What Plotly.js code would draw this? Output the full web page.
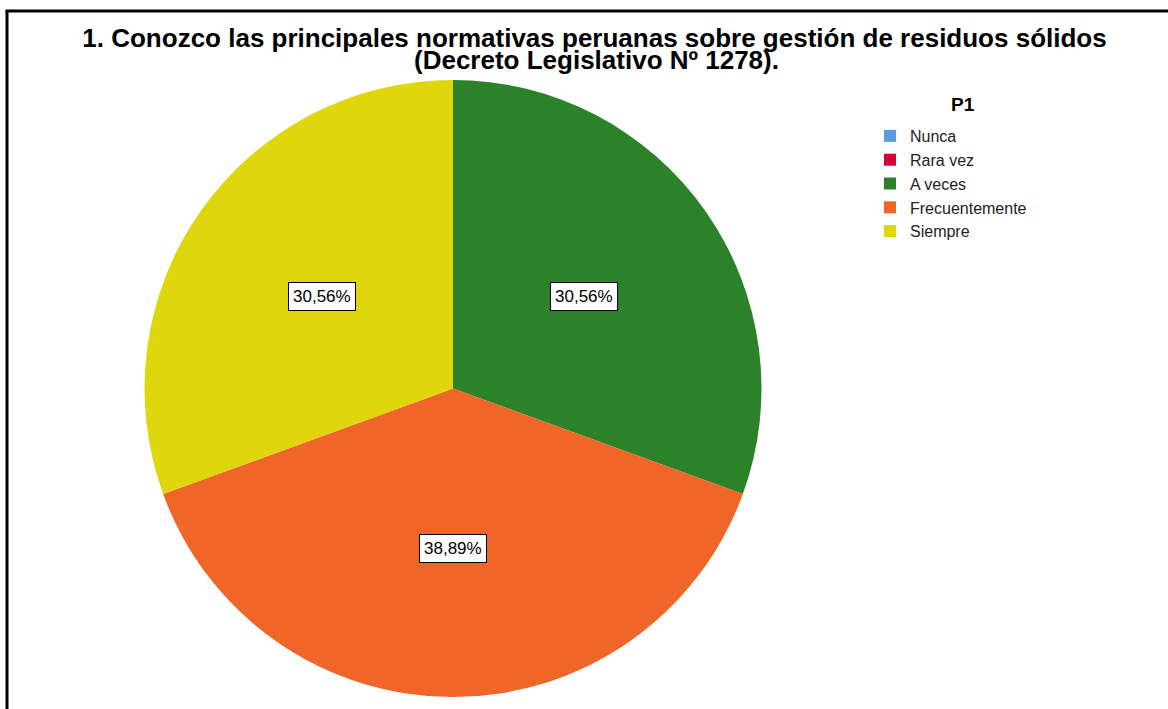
<!DOCTYPE html>
<html><head><meta charset="utf-8">
<script src="https://cdn.plot.ly/plotly-3.0.1.min.js"></script>
<style>html,body{margin:0;padding:0;background:#fff}#chart{width:1168px;height:709px}</style>
</head><body><div id="chart"></div>
<script>
const categories = ['Nunca', 'Rara vez', 'A veces', 'Frecuentemente', 'Siempre'];
const counts = [0, 0, 11, 14, 11];
const colors = ['#5b9be6', '#d8003a', '#2b8229', '#f06629', '#e0d60e'];
const titleLine1 = '1. Conozco las principales normativas peruanas sobre gestión de residuos sólidos';
const titleLine2 = '(Decreto Legislativo Nº 1278).';
const legendTitle = 'P1';

const W = 1168, H = 709;
const M = {l: 0, r: 0, t: 80, b: 12};
const plotW = W - M.l - M.r, plotH = H - M.t - M.b;
const cx = 453, R = plotH / 2, cy = M.t + R;
const px2x = px => (px - M.l) / plotW;
const py2y = py => (H - M.b - py) / plotH;
const FONT = 'Arial, "Liberation Sans", sans-serif';
const LABEL_RADIUS = 0.52;

const total = counts.reduce((a, b) => a + b, 0);
const annotations = [];
let cum = 0;
counts.forEach((v, i) => {
  const mid = (cum + v / 2) / total * 2 * Math.PI;
  cum += v;
  if (v === 0) return;
  const px = cx + LABEL_RADIUS * R * Math.sin(mid);
  const py = cy - LABEL_RADIUS * R * Math.cos(mid);
  annotations.push({
    x: px2x(px), y: py2y(py), xref: 'paper', yref: 'paper', showarrow: false,
    xanchor: 'center', yanchor: 'middle',
    text: (v / total * 100).toFixed(2).replace('.', ',') + '%',
    font: {family: FONT, size: 17, color: '#000'},
    bgcolor: '#fff', bordercolor: '#000', borderwidth: 1, borderpad: 4
  });
});
annotations.push({
  x: px2x(596), y: py2y(60), xref: 'paper', yref: 'paper', showarrow: false,
  xanchor: 'center', yanchor: 'middle',
  text: titleLine2, font: {family: FONT, size: 26, weight: 'bold', color: '#000'}
});
annotations.push({
  x: px2x(963), y: py2y(104), xref: 'paper', yref: 'paper', showarrow: false,
  xanchor: 'center', yanchor: 'middle',
  text: legendTitle, font: {family: FONT, size: 19, weight: 'bold', color: '#000'}
});

const data = [{
  type: 'pie',
  labels: categories,
  values: counts,
  marker: {colors: colors, line: {width: 0}},
  sort: false,
  direction: 'clockwise',
  rotation: 0,
  textinfo: 'none',
  hoverinfo: 'label+percent',
  domain: {x: [px2x(cx - R), px2x(cx + R)], y: [0, 1]}
}];

const layout = {
  width: W, height: H,
  margin: M,
  paper_bgcolor: '#fff', plot_bgcolor: '#fff',
  title: {
    text: titleLine1, x: 594.5 / W, xanchor: 'center', xref: 'container',
    y: 1 - 37.5 / H, yanchor: 'middle', yref: 'container',
    font: {family: FONT, size: 26, weight: 'bold', color: '#000'}
  },
  showlegend: true,
  legend: {
    x: px2x(870), xanchor: 'left', y: py2y(119), yanchor: 'top',
    font: {family: FONT, size: 16, color: '#222'},
    bgcolor: 'rgba(0,0,0,0)', borderwidth: 0, traceorder: 'normal'
  },
  annotations: annotations,
  shapes: [
    {type: 'line', xref: 'paper', yref: 'paper', x0: px2x(7), x1: px2x(7), y0: py2y(11), y1: py2y(720), line: {color: '#000', width: 3}},
    {type: 'line', xref: 'paper', yref: 'paper', x0: px2x(5.5), x1: px2x(1180), y0: py2y(11), y1: py2y(11), line: {color: '#000', width: 3}}
  ]
};

Plotly.newPlot('chart', data, layout, {displayModeBar: false});
</script>
</body></html>
